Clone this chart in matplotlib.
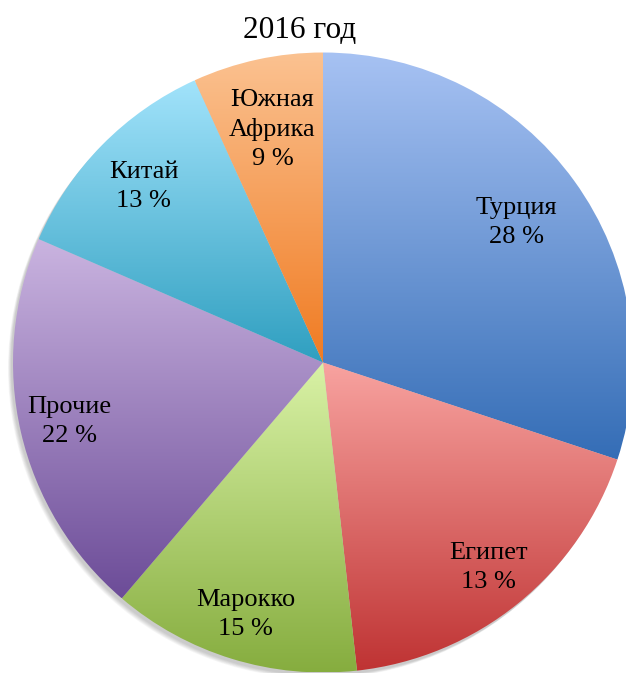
import numpy as np
import matplotlib
matplotlib.use("Agg")
import matplotlib.pyplot as plt
from matplotlib.colors import LinearSegmentedColormap

plt.rcParams['font.family'] = ['Liberation Serif', 'DejaVu Serif']

# slice shares as drawn, and the labels printed on them
names = ['Турция', 'Египет', 'Марокко', 'Прочие', 'Китай', 'Южная\nАфрика']
shares = [30.1, 18.2, 13.0, 20.3, 11.7, 6.8]
pct_text = ['28 %', '13 %', '15 %', '22 %', '13 %', '9 %']

# gradient colours: light at top, dark at bottom
top_cols = ['#a7c2f3', '#f8a3a0', '#d9f2a6', '#cab4e0', '#a2e3fb', '#fbc291']
bot_cols = ['#346db6', '#bf3333', '#86ad3f', '#6c4c98', '#2f9fc0', '#f07b22']
label_r = [0.77, 0.85, 0.85, 0.84, 0.81, 0.77]

W, H = 626, 673
fig = plt.figure(figsize=(W / 100, H / 100), dpi=100)
ax = fig.add_axes([0, 0, 1, 1])

cx, cy, R = 323, H - 362.5, 310

# faint shadow on lower-left rim
for k in range(6):
    sh = plt.Circle((cx - 2 - k * 0.6, cy - 3 - k * 0.6), R, color='black',
                    alpha=0.035, lw=0, zorder=0)
    ax.add_patch(sh)

wedges, _ = ax.pie(shares, center=(cx, cy), radius=R, startangle=90,
                   counterclock=False, wedgeprops=dict(linewidth=0))

grad = np.linspace(1, 0, 256).reshape(-1, 1)
for i, w in enumerate(wedges):
    w.set_facecolor('none')
    cmap = LinearSegmentedColormap.from_list('g%d' % i, [bot_cols[i], top_cols[i]])
    bb = w.get_path().get_extents(w.get_transform())
    inv = ax.transData.inverted()
    (x0, y0), (x1, y1) = inv.transform([[bb.x0, bb.y0], [bb.x1, bb.y1]])
    im = ax.imshow(grad, cmap=cmap, extent=(x0, x1, y0, y1), origin='upper',
                   aspect='auto', zorder=1, interpolation='bilinear')
    im.set_clip_path(w)

    mid = np.deg2rad((w.theta1 + w.theta2) / 2)
    tx = cx + label_r[i] * R * np.cos(mid)
    ty = cy + label_r[i] * R * np.sin(mid)
    ax.text(tx, ty, names[i] + '\n' + pct_text[i], ha='center', va='center',
            fontsize=19, linespacing=1.4, zorder=3)

ax.set_xlim(0, W)
ax.set_ylim(0, H)
ax.set_aspect('equal')
ax.axis('off')

fig.text(300 / W, 1 - 30 / H, '2016 год', ha='center', va='center', fontsize=22.5)

fig.savefig('out.png', dpi=100)
